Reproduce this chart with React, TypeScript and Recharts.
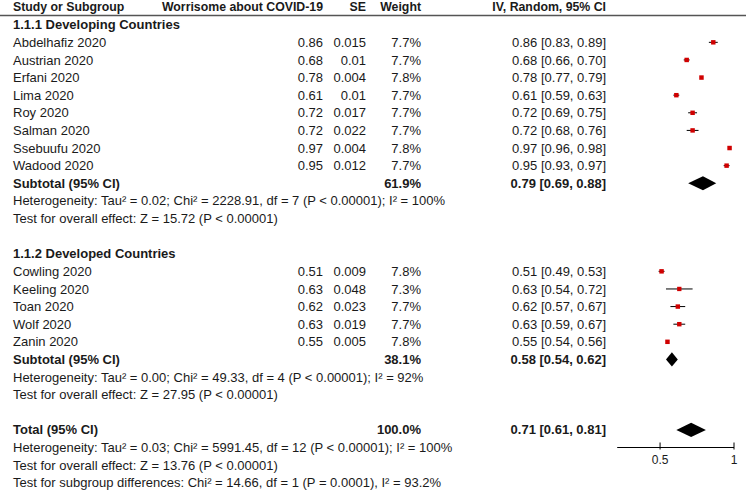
import { ComposedChart, ErrorBar, ReferenceArea, ReferenceDot, Scatter, XAxis, YAxis } from "recharts"

// 1.1.1 Developing Countries
const devStudies = ["Abdelhafiz 2020", "Austrian 2020", "Erfani 2020", "Lima 2020", "Roy 2020", "Salman 2020", "Ssebuufu 2020", "Wadood 2020"]
const devEst = [0.86, 0.68, 0.78, 0.61, 0.72, 0.72, 0.97, 0.95]
const devSE = [0.015, 0.01, 0.004, 0.01, 0.017, 0.022, 0.004, 0.012]
const devWeight = [7.7, 7.7, 7.8, 7.7, 7.7, 7.7, 7.8, 7.7]
const devLow = [0.83, 0.66, 0.77, 0.59, 0.69, 0.68, 0.96, 0.93]
const devHigh = [0.89, 0.7, 0.79, 0.63, 0.75, 0.76, 0.98, 0.97]

// 1.1.2 Developed Countries
const dvdStudies = ["Cowling 2020", "Keeling 2020", "Toan 2020", "Wolf 2020", "Zanin 2020"]
const dvdEst = [0.51, 0.63, 0.62, 0.63, 0.55]
const dvdSE = [0.009, 0.048, 0.023, 0.019, 0.005]
const dvdWeight = [7.8, 7.3, 7.7, 7.7, 7.8]
const dvdLow = [0.49, 0.54, 0.57, 0.59, 0.54]
const dvdHigh = [0.53, 0.72, 0.67, 0.67, 0.56]

// subtotals + total
const pooledLabels = ["Subtotal (95% CI)", "Subtotal (95% CI)", "Total (95% CI)"]
const pooledWeight = ["61.9%", "38.1%", "100.0%"]
const pooledEst = [0.79, 0.58, 0.71]
const pooledLow = [0.69, 0.54, 0.61]
const pooledHigh = [0.88, 0.62, 0.81]

const groupTitles = ["1.1.1 Developing Countries", "1.1.2 Developed Countries"]
const devStats = [
  "Heterogeneity: Tau² = 0.02; Chi² = 2228.91, df = 7 (P < 0.00001); I² = 100%",
  "Test for overall effect: Z = 15.72 (P < 0.00001)",
]
const dvdStats = [
  "Heterogeneity: Tau² = 0.00; Chi² = 49.33, df = 4 (P < 0.00001); I² = 92%",
  "Test for overall effect: Z = 27.95 (P < 0.00001)",
]
const totalStats = [
  "Heterogeneity: Tau² = 0.03; Chi² = 5991.45, df = 12 (P < 0.00001); I² = 100%",
  "Test for overall effect: Z = 13.76 (P < 0.00001)",
  "Test for subgroup differences: Chi² = 14.66, df = 1 (P = 0.0001), I² = 93.2%",
]
const headers = ["Study or Subgroup", "Worrisome about COVID-19", "SE", "Weight", "IV, Random, 95% CI"]
const xTicks = [0.5, 1]

const FONT = "'Liberation Sans', Arial, sans-serif"
const COLS: { x: number; anchor: "start" | "end" }[] = [
  { x: 13, anchor: "start" },
  { x: 323, anchor: "end" },
  { x: 366, anchor: "end" },
  { x: 421, anchor: "end" },
  { x: 606, anchor: "end" },
]

interface TextRow {
  row: number
  cells: (string | null)[]
  bold: boolean
  header?: boolean
}

interface StudyPoint {
  row: number
  est: number
  weight: number
  err: [number, number]
}

const fmtCI = (e: number, lo: number, hi: number) => `${e.toFixed(2)} [${lo.toFixed(2)}, ${hi.toFixed(2)}]`

const textRows: TextRow[] = [{ row: -0.03, cells: headers, bold: true, header: true }]
const studyPoints: StudyPoint[] = []
const diamonds: { row: number; est: number; lo: number; hi: number }[] = []

function addGroup(
  title: string, names: string[], est: number[], se: number[], w: number[], lo: number[], hi: number[],
  pooledIdx: number, stats: string[], start: number
) {
  let r = start
  textRows.push({ row: r++, cells: [title], bold: true })
  names.forEach((n, i) => {
    textRows.push({ row: r, cells: [n, est[i].toFixed(2), String(se[i]), w[i].toFixed(1) + "%", fmtCI(est[i], lo[i], hi[i])], bold: false })
    studyPoints.push({ row: r, est: est[i], weight: w[i], err: [est[i] - lo[i], hi[i] - est[i]] })
    r++
  })
  textRows.push({
    row: r,
    cells: [pooledLabels[pooledIdx], null, null, pooledWeight[pooledIdx], fmtCI(pooledEst[pooledIdx], pooledLow[pooledIdx], pooledHigh[pooledIdx])],
    bold: true,
  })
  diamonds.push({ row: r, est: pooledEst[pooledIdx], lo: pooledLow[pooledIdx], hi: pooledHigh[pooledIdx] })
  r++
  stats.forEach((s) => textRows.push({ row: r++, cells: [s], bold: false }))
  return r + 1
}

let next = addGroup(groupTitles[0], devStudies, devEst, devSE, devWeight, devLow, devHigh, 0, devStats, 1)
next = addGroup(groupTitles[1], dvdStudies, dvdEst, dvdSE, dvdWeight, dvdLow, dvdHigh, 1, dvdStats, next)
textRows.push({ row: next, cells: [pooledLabels[2], null, null, pooledWeight[2], fmtCI(pooledEst[2], pooledLow[2], pooledHigh[2])], bold: true })
diamonds.push({ row: next, est: pooledEst[2], lo: pooledLow[2], hi: pooledHigh[2] })
totalStats.forEach((s, i) => textRows.push({ row: next + 1 + i, cells: [s], bold: false }))

function renderRow(t: TextRow, cy: number) {
  return (
    <g>
      {t.cells.map((c, i) =>
        c == null ? null : (
          <text
            key={i}
            x={COLS[i].x}
            y={cy + 4.6}
            textAnchor={COLS[i].anchor}
            fontFamily={FONT}
            fontSize={t.header ? 12.3 : 13}
            fontWeight={t.bold ? 700 : 400}
            fill="#1a1a1a"
          >
            {c}
          </text>
        )
      )}
      {t.header && <line x1={0} x2={746} y1={cy + 8.9} y2={cy + 8.9} stroke="#555" strokeWidth={1.5} />}
    </g>
  )
}

function AxisTick(props: any) {
  const { x, y, payload } = props
  return (
    <g>
      <line x1={x} x2={x} y1={y - 5} y2={y + 2} stroke="#000" />
      <text x={x} y={y + 16} textAnchor="middle" fontFamily={FONT} fontSize={12} fill="#1a1a1a">
        {payload.value}
      </text>
    </g>
  )
}

export default function App() {
  return (
    <div style={{ position: "absolute", left: 0, top: 0, width: 748, height: 494, background: "#fff" }}>
      <ComposedChart width={748} height={494} margin={{ top: 7.1, right: 14, bottom: 6.5, left: 617.2 }}>
        <XAxis
          type="number"
          dataKey="est"
          domain={[0.21, 1]}
          ticks={xTicks}
          height={40}
          axisLine={{ stroke: "#000" }}
          tickLine={false}
          tickSize={0}
          tickMargin={0}
          tick={<AxisTick />}
        />
        <YAxis type="number" dataKey="row" domain={[0, 25]} reversed hide />
        {textRows.map((t, i) => (
          <ReferenceDot
            key={"t" + i}
            x={0.5}
            y={t.row}
            ifOverflow="visible"
            shape={(p: any) => renderRow(t, p.cy)}
          />
        ))}
        {diamonds.map((d, i) => (
          <ReferenceArea
            key={"d" + i}
            x1={d.lo}
            x2={d.hi}
            y1={d.row - 0.4}
            y2={d.row + 0.4}
            shape={(p: any) => {
              const mx = p.x + (p.width * (d.est - d.lo)) / (d.hi - d.lo)
              const my = p.y + p.height / 2
              return (
                <polygon
                  points={`${p.x},${my} ${mx},${p.y} ${p.x + p.width},${my} ${mx},${p.y + p.height}`}
                  fill="#000"
                />
              )
            }}
          />
        ))}
        <Scatter
          data={studyPoints}
          isAnimationActive={false}
          shape={(p: any) => {
            const s = Math.sqrt(p.payload.weight) * 1.6
            return <rect x={p.cx - s / 2} y={p.cy - s / 2} width={s} height={s} fill="#d00000" />
          }}
        >
          <ErrorBar dataKey="err" direction="x" width={0} stroke="#000" strokeWidth={1} isAnimationActive={false} />
        </Scatter>
      </ComposedChart>
    </div>
  )
}
